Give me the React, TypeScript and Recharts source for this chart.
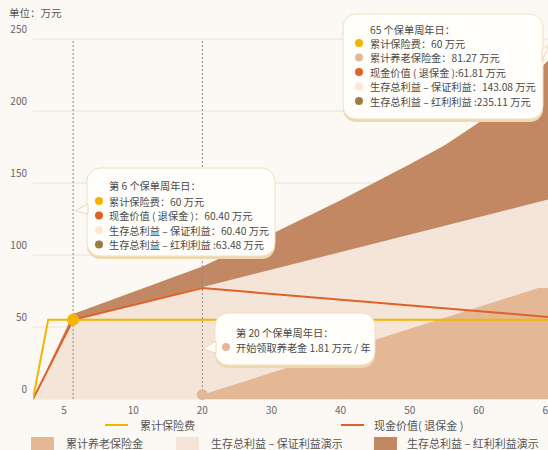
import React from 'react';
import {
  ComposedChart,
  Area,
  Line,
  XAxis,
  YAxis,
  CartesianGrid,
  ReferenceLine,
  ReferenceDot,
} from 'recharts';

// X axis: evenly spaced label slots (slot i <-> tickLabels[i])
const tickSlots = [0, 1, 2, 3, 4, 5, 6, 7];
const tickLabels = ['5', '10', '20', '30', '40', '50', '60', '65'];
const yTicks = [0, 50, 100, 150, 200, 250];

// 累计保险费
const premiumX = [-0.45, -0.23, 7];
const premiumY = [0, 55, 55];
// 现金价值(退保金)
const cashX = [-0.45, 0.13, 2, 7];
const cashY = [0, 55, 77, 57];
// 生存总利益 - 红利利益演示
const bonusX = [-0.45, 0.13, 2, 3, 4, 5, 5.5, 6, 6.5, 7];
const bonusY = [0, 59, 92, 114.5, 138, 163, 176, 192, 210, 235];
// 生存总利益 - 保证利益演示
const guaranteedX = [-0.45, 0.13, 7];
const guaranteedY = [0, 55, 138.5];
// 累计养老保险金
const pensionX = [2, 6.86, 7];
const pensionY = [3, 77, 77];

// marker points
const year6Slot = 0.13;
const year20Slot = 2;

const zip = (xs: number[], ys: number[]) => xs.map((x, i) => ({ x, v: ys[i] }));

const C = {
  bg: '#FCF9F5',
  yellow: '#F4B400',
  orange: '#DF6128',
  brown: '#C28763',
  beige: '#F5E5D8',
  tan: '#E4B894',
  dotBeige: '#FBE7D4',
  dotOlive: '#9C7B47',
  grid: '#E7E2DC',
  text: '#4A4A4A',
};

const FONT = '"Noto Sans CJK SC", "Noto Sans", sans-serif';

type CLine = { color?: string; text: string };
type CalloutSpec = {
  x: number; y: number; w: number; h: number;
  tail: string;
  textX: number; dotX: number;
  lineYs: number[];
  lines: CLine[];
};

const callouts: CalloutSpec[] = [
  {
    x: 87, y: 168, w: 188, h: 88,
    tail: '88,204 75,211 88,214',
    textX: 109, dotX: 99,
    lineYs: [185, 201, 215.5, 230, 244.5],
    lines: [
      { text: '第 6 个保单周年日：' },
      { color: C.yellow, text: '累计保险费：60 万元' },
      { color: C.orange, text: '现金价值 ( 退保金 )：60.40 万元' },
      { color: C.dotBeige, text: '生存总利益 – 保证利益：60.40 万元' },
      { color: C.dotOlive, text: '生存总利益 – 红利利益 :63.48 万元' },
    ],
  },
  {
    x: 343, y: 14, w: 200, h: 105,
    tail: '542,50 549,44 542,61',
    textX: 370, dotX: 359,
    lineYs: [29, 43, 57.5, 72, 86.5, 101],
    lines: [
      { text: '65 个保单周年日：' },
      { color: C.yellow, text: '累计保险费：60 万元' },
      { color: C.tan, text: '累计养老保险金：81.27 万元' },
      { color: C.orange, text: '现金价值 ( 退保金 ):61.81 万元' },
      { color: C.dotBeige, text: '生存总利益 – 保证利益：143.08 万元' },
      { color: C.dotOlive, text: '生存总利益 – 红利利益 :235.11 万元' },
    ],
  },
  {
    x: 215, y: 313, w: 160, h: 52,
    tail: '216,341 203,349 216,353',
    textX: 236, dotX: 226,
    lineYs: [332, 347],
    lines: [
      { text: '第 20 个保单周年日：' },
      { color: C.tan, text: '开始领取养老金 1.81 万元 / 年' },
    ],
  },
];

const YTick = (props: any) => {
  const { x, y, payload } = props;
  return (
    <text x={x + 2} y={y - 11} textAnchor="end" dominantBaseline="central" fontSize={10} fill="#666" fontFamily={FONT}>
      {payload.value}
    </text>
  );
};

const legendRow1 = [
  { color: C.yellow, label: '累计保险费', ix: 105, tx: 140 },
  { color: C.orange, label: '现金价值( 退保金 )', ix: 341, tx: 374 },
];
const legendRow2 = [
  { color: C.tan, label: '累计养老保险金', ix: 31, tx: 66 },
  { color: C.beige, label: '生存总利益 – 保证利益演示', ix: 176, tx: 211 },
  { color: C.brown, label: '生存总利益 – 红利利益演示', ix: 374, tx: 407 },
];

export default function App() {
  return (
    <div
      style={{
        position: 'absolute', left: 0, top: 0, width: 548, height: 450,
        overflow: 'hidden', background: C.bg, fontFamily: FONT,
      }}
    >
      <div style={{ position: 'absolute', left: 9, top: 5, fontSize: 10.5, color: '#555', lineHeight: '16px' }}>
        单位：万元
      </div>
      <div style={{ position: 'absolute', left: 0, top: 0 }}>
        <ComposedChart width={548} height={450} margin={{ top: 39, right: 0, left: 0, bottom: 0 }}>
          <CartesianGrid vertical={false} stroke={C.grid} />
          <XAxis
            type="number"
            dataKey="x"
            domain={[-0.45, 7]}
            ticks={tickSlots}
            allowDataOverflow
            tickFormatter={(v: number) => tickLabels[tickSlots.indexOf(v)] ?? ''}
            axisLine={false}
            tickLine={false}
            height={51}
            tick={{ fontSize: 10, fill: '#666', fontFamily: FONT }}
            interval={0}
          />
          <YAxis
            type="number"
            domain={[0, 250]}
            ticks={yTicks}
            width={33}
            axisLine={false}
            tickLine={false}
            tick={<YTick />}
            interval={0}
          />
          <Area data={zip(bonusX, bonusY)} dataKey="v" type="linear" stroke="none" fill={C.brown} fillOpacity={1} isAnimationActive={false} />
          <Area data={zip(guaranteedX, guaranteedY)} dataKey="v" type="linear" stroke="none" fill={C.beige} fillOpacity={1} isAnimationActive={false} />
          <Area data={zip(pensionX, pensionY)} dataKey="v" type="linear" stroke="none" fill={C.tan} fillOpacity={1} isAnimationActive={false} />
          <ReferenceLine x={year6Slot} stroke="#8E8A86" strokeDasharray="2 2" strokeWidth={1} />
          <ReferenceLine x={year20Slot} stroke="#8E8A86" strokeDasharray="2 2" strokeWidth={1} />
          <Line data={zip(cashX, cashY)} dataKey="v" type="linear" stroke={C.orange} strokeWidth={2} dot={false} isAnimationActive={false} />
          <Line data={zip(premiumX, premiumY)} dataKey="v" type="linear" stroke={C.yellow} strokeWidth={2} dot={false} isAnimationActive={false} />
          <ReferenceDot x={year6Slot} y={55} r={6} fill={C.yellow} stroke="none" />
          <ReferenceDot x={year20Slot} y={3} r={5.5} fill={C.tan} stroke="none" />
        </ComposedChart>
      </div>

      <svg width={548} height={450} style={{ position: 'absolute', left: 0, top: 0, pointerEvents: 'none' }}>
        {callouts.map((c, i) => (
          <g key={i}>
            <rect x={c.x} y={c.y + 3} width={c.w} height={c.h} rx={13} fill="#EFD8AE" />
            <rect x={c.x} y={c.y} width={c.w} height={c.h} rx={13} fill="#FFFEFB" stroke="#F0DFC2" strokeWidth={1} />
            <polygon points={c.tail} fill="#FFFEFB" stroke="#EFD8AE" strokeWidth={1} />
            {c.lines.map((l, j) => (
              <g key={j}>
                {l.color && <circle cx={c.dotX} cy={c.lineYs[j]} r={4} fill={l.color} />}
                <text x={c.textX} y={c.lineYs[j]} dominantBaseline="central" fontSize={10.2} fill={C.text} fontFamily={FONT}>
                  {l.text}
                </text>
              </g>
            ))}
          </g>
        ))}
      </svg>

      {legendRow1.map((l, i) => (
        <React.Fragment key={'r1' + i}>
          <div style={{ position: 'absolute', left: l.ix, top: 424, width: 23, height: 2, background: l.color }} />
          <div style={{ position: 'absolute', left: l.tx, top: 417, fontSize: 11, color: '#555', lineHeight: '16px', whiteSpace: 'nowrap' }}>
            {l.label}
          </div>
        </React.Fragment>
      ))}
      {legendRow2.map((l, i) => (
        <React.Fragment key={'r2' + i}>
          <div style={{ position: 'absolute', left: l.ix, top: 437, width: 23, height: 13, background: l.color }} />
          <div style={{ position: 'absolute', left: l.tx, top: 435, fontSize: 11, color: '#555', lineHeight: '16px', whiteSpace: 'nowrap' }}>
            {l.label}
          </div>
        </React.Fragment>
      ))}
    </div>
  );
}
